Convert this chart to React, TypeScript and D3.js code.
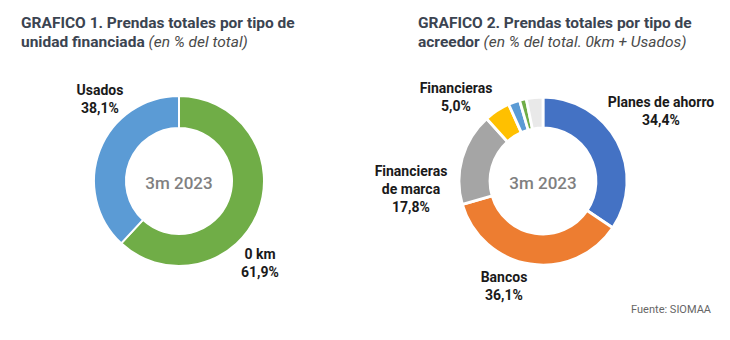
import React from "react";
import * as d3 from "d3";

const units = ["0 km", "Usados"];
const unitValues = [61.9, 38.1];
const unitColors = ["#70ad47", "#5b9bd5"];

const creditors = ["Planes de ahorro", "Bancos", "Financieras de marca", "Financieras", "Otros 1", "Otros 2", "Otros 3"];
const creditorValues = [34.4, 36.1, 17.8, 5.0, 2.2, 1.3, 3.2];
const creditorColors = ["#4472c4", "#ed7d31", "#a5a5a5", "#ffc000", "#5b9bd5", "#70ad47", "#e9e9e9"];

const centerLabel = "3m 2023";
const fmt = (v: number) => v.toFixed(1).replace(".", ",") + "%";

type Lab = { lines: string[]; x: number; y: number };

const FONT = "Roboto, 'Noto Sans', sans-serif";

function Donut({ cx, cy, R, r, values, colors, stroke }: any) {
  const pie = d3.pie<number>().sort(null).value((d) => d)(values);
  const arc = d3.arc<d3.PieArcDatum<number>>().innerRadius(r).outerRadius(R);
  return (
    <g transform={`translate(${cx},${cy})`}>
      {pie.map((p, i) => (
        <path key={i} d={arc(p) || ""} fill={colors[i]} stroke="#fff" strokeWidth={stroke} strokeLinejoin="miter" />
      ))}
      <text x={0} y={4} textAnchor="middle" fontFamily={FONT} fontWeight={500} fontSize={17} fill="#808080" dominantBaseline="middle">
        {centerLabel}
      </text>
    </g>
  );
}

function Labels({ labels }: { labels: Lab[] }) {
  return (
    <g>
      {labels.map((l, i) => (
        <text key={i} x={l.x} y={l.y} textAnchor="middle" fontFamily={FONT} fontWeight={700} fontSize={14} fill="#1a1a1a">
          {l.lines.map((s, j) => (
            <tspan key={j} x={l.x} dy={j === 0 ? 0 : 18}>
              {s}
            </tspan>
          ))}
        </text>
      ))}
    </g>
  );
}

export default function App() {
  const labels1: Lab[] = [
    { lines: [units[1], fmt(unitValues[1])], x: 100, y: 95 },
    { lines: [units[0], fmt(unitValues[0])], x: 260, y: 259 },
  ];
  const labels2: Lab[] = [
    { lines: [creditors[0], fmt(creditorValues[0])], x: 661, y: 107 },
    { lines: [creditors[1], fmt(creditorValues[1])], x: 504, y: 282 },
    { lines: ["Financieras", "de marca", fmt(creditorValues[2])], x: 411, y: 176 },
    { lines: [creditors[3], fmt(creditorValues[3])], x: 456, y: 93 },
  ];
  const titleColor = "#3b4451";
  return (
    <div style={{ position: "absolute", left: 0, top: 0 }}>
      <svg width={730} height={340} style={{ display: "block", background: "#fff" }}>
        <text x={21} y={28} fontFamily={FONT} fontWeight={700} fontSize={15.5} fill={titleColor}>
          GRAFICO 1. Prendas totales por tipo de
        </text>
        <text x={21} y={47} fontFamily={FONT} fontSize={15.5} fill={titleColor}>
          <tspan fontWeight={700}>unidad financiada</tspan>
          <tspan fontStyle="italic" fill="#4a4a4a"> (en % del total)</tspan>
        </text>
        <text x={418} y={28} fontFamily={FONT} fontWeight={700} fontSize={15.5} fill={titleColor}>
          GRAFICO 2. Prendas totales por tipo de
        </text>
        <text x={418} y={47} fontFamily={FONT} fontSize={15.5} fill={titleColor}>
          <tspan fontWeight={700}>acreedor</tspan>
          <tspan fontStyle="italic" fill="#4a4a4a"> (en % del total. 0km + Usados)</tspan>
        </text>

        <Donut cx={179} cy={181} R={85} r={53} values={unitValues} colors={unitColors} stroke={2} />
        <Donut cx={543} cy={181} R={84} r={53} values={creditorValues} colors={creditorColors} stroke={2.8} />

        <Labels labels={labels1} />
        <Labels labels={labels2} />

        <text x={711} y={313} textAnchor="end" fontFamily={FONT} fontSize={11} fill="#666">
          Fuente: SIOMAA
        </text>
      </svg>
    </div>
  );
}
